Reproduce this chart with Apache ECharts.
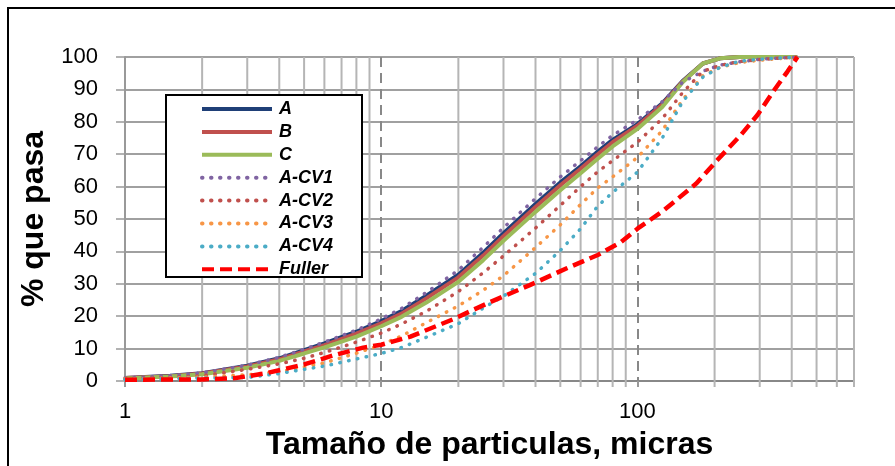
<!DOCTYPE html>
<html>
<head>
<meta charset="utf-8">
<script src="https://cdn.jsdelivr.net/npm/echarts@6/dist/echarts.min.js"></script>
<style>
html,body{margin:0;padding:0;background:#fff;}
#chart{width:895px;height:466px;}
</style>
</head>
<body>
<div id="chart"></div>
<script>
// Particle sizes (micras) shared by the measured curves
const sizes = [1, 1.5, 2, 3, 4, 5, 6, 8, 10, 12, 15, 20, 25, 30, 40, 50, 60, 70, 80, 100, 125, 150, 180, 210, 250, 300, 420];
const serieA   = [0.9,1.6,2.4,4.7,7.0,9.5,11.6,15.2,18.5,21.6,26.3,32.8,39.6,45.6,54.6,61.3,66.3,70.8,74.4,79.3,85.7,92.6,98.0,99.6,100,100,100];
const serieB   = [0.9,1.5,2.3,4.5,6.7,9.1,11.1,14.6,17.8,20.8,25.5,32.0,38.7,44.7,53.7,60.4,65.5,70.0,73.7,78.8,85.3,92.4,98.0,99.6,100,100,100];
const serieC   = [0.8,1.4,2.1,4.1,6.2,8.5,10.4,13.7,16.9,19.8,24.2,30.6,37.3,43.3,52.2,58.9,64.1,68.6,72.4,77.8,84.6,92.2,98.0,99.6,100,100,100];
const serieCV1 = [0.9,1.6,2.5,4.9,7.3,9.8,12.0,15.7,19.2,22.4,27.3,34.2,41.3,47.3,56.3,63.0,68.0,72.3,75.8,80.6,86.2,92.2,95.6,97.5,98.5,99.3,100];
const serieCV2 = [0.7,1.1,1.6,3.6,5.3,7.0,8.8,12.0,14.8,17.6,21.5,27.6,33.4,38.6,47.2,54.2,60.0,64.6,68.0,73.7,81.0,89.0,95.6,97.4,98.6,99.2,100];
const serieCV3 = [0.6,0.9,1.2,1.9,2.9,4.3,5.6,8.6,11.2,13.9,18.0,23.2,28.0,32.5,41.2,48.2,54.5,59.6,63.0,69.0,77.3,86.8,94.2,96.8,98.3,99.0,100];
const serieCV4 = [0.5,0.7,0.9,1.1,2.3,3.6,4.6,6.8,8.5,10.3,13.5,17.7,22.5,26.2,33.2,40.3,47.0,54.0,58.2,64.5,75.0,86.2,93.8,96.8,98.7,99.3,100];
// Fuller curve
const fullerSizes = [1, 2, 2.7, 3.5, 5, 6.5, 8.5, 10, 13, 19, 26, 38, 53, 70, 86, 100, 125, 170, 205, 253, 294, 342, 385, 421];
const fullerVals  = [0.4, 0.5, 0.9, 2.3, 5.1, 7.9, 10.3, 11.2, 13.7, 19.0, 24.0, 29.6, 34.8, 38.9, 42.8, 47.0, 52.3, 61.0, 68.2, 75.9, 82.1, 89.8, 95.5, 100];
// Minor log gridlines
const minorGrid = [2,3,4,5,6,7,8,9,20,30,40,50,60,70,80,90,200,300,400,500,600,700];
const majorLabels = [1, 10, 100];

const pair = (xs, ys) => xs.map((x, i) => [x, ys[i]]);

const font = 'Liberation Sans, Arial, sans-serif';
const dotted = (color) => ({ color: color, width: 3.5, type: [0.5, 8.5], cap: 'round' });

const chart = echarts.init(document.getElementById('chart'));
const option = {
  animation: false,
  backgroundColor: '#ffffff',
  grid: { left: 125, right: 41, top: 57, bottom: 85, containLabel: false, outerBoundsMode: 'none' },
  graphic: [
    { type: 'rect', z: 0, silent: true, shape: { x: 8, y: 8, width: 1000, height: 1000 },
      style: { fill: 'none', stroke: '#000', lineWidth: 2 } },
    { type: 'rect', z: 3, silent: true, shape: { x: 166, y: 95, width: 196, height: 182 },
      style: { fill: '#fff', stroke: '#000', lineWidth: 2 } }
  ],
  legend: {
    z: 10,
    left: 200, top: 100,
    orient: 'vertical',
    itemWidth: 70, itemHeight: 14, itemGap: 4.9,
    padding: 0,
    itemStyle: { opacity: 0 },
    lineStyle: { width: 4 },
    textStyle: { fontFamily: font, fontSize: 18, fontWeight: 'bold', fontStyle: 'italic', color: '#000', padding: [0, 0, 0, 2] },
    data: ['A', 'B', 'C', 'A-CV1', 'A-CV2', 'A-CV3', 'A-CV4', 'Fuller']
  },
  xAxis: {
    type: 'log', logBase: 10, min: 1, max: 700,
    name: 'Tamaño de particulas, micras',
    nameLocation: 'middle', nameGap: 48,
    nameTextStyle: { fontFamily: font, fontSize: 32, fontWeight: 'bold', color: '#000' },
    axisLine: { show: true, lineStyle: { color: '#888', width: 2 } },
    axisTick: { show: true, length: 6, lineStyle: { color: '#999', width: 2 } },
    axisLabel: {
      fontFamily: font, fontSize: 22, color: '#000', margin: 20,
      formatter: (v) => majorLabels.indexOf(Math.round(v)) >= 0 ? String(Math.round(v)) : ''
    },
    splitLine: { show: true, lineStyle: { color: '#888', width: 2, type: [10, 6] } },
    minorTick: { show: false }
  },
  yAxis: {
    type: 'value', min: 0, max: 100, interval: 10,
    name: '% que pasa',
    nameLocation: 'middle', nameGap: 64, nameRotate: 90,
    nameTextStyle: { fontFamily: font, fontSize: 32, fontWeight: 'bold', color: '#000' },
    axisLine: { show: true, lineStyle: { color: '#999', width: 2 } },
    axisTick: { show: true, length: 9, lineStyle: { color: '#999', width: 1.5 } },
    axisLabel: { fontFamily: font, fontSize: 22, color: '#000', margin: 27 },
    splitLine: { show: true, lineStyle: { color: '#a0a0a0', width: 2 } }
  },
  series: [
    {
      type: 'custom', name: 'grid', silent: true, z: 1, clip: false,
      data: minorGrid.map(v => [v, 0]),
      encode: { x: 0, y: 1 },
      renderItem: (params, api) => {
        const x = api.value(0);
        const t = api.coord([x, 100]);
        const b = api.coord([x, 0]);
        return { type: 'line', shape: { x1: t[0], y1: t[1], x2: b[0], y2: b[1] + 6 },
                 style: { stroke: '#b5b5b5', lineWidth: 2 } };
      }
    },
    { name: 'A', type: 'line', symbol: 'none', z: 3, data: pair(sizes, serieA),
      lineStyle: { color: '#1F3F77', width: 4 }, itemStyle: { color: '#1F3F77' } },
    { name: 'B', type: 'line', symbol: 'none', z: 3, data: pair(sizes, serieB),
      lineStyle: { color: '#C0504D', width: 4 }, itemStyle: { color: '#C0504D' } },
    { name: 'C', type: 'line', symbol: 'none', z: 3, data: pair(sizes, serieC),
      lineStyle: { color: '#9BBB59', width: 4 }, itemStyle: { color: '#9BBB59' } },
    { name: 'A-CV1', type: 'line', symbol: 'none', z: 4, data: pair(sizes, serieCV1),
      lineStyle: dotted('#8064A2'), itemStyle: { color: '#8064A2' } },
    { name: 'A-CV2', type: 'line', symbol: 'none', z: 4, data: pair(sizes, serieCV2),
      lineStyle: dotted('#C0504D'), itemStyle: { color: '#C0504D' } },
    { name: 'A-CV3', type: 'line', symbol: 'none', z: 4, data: pair(sizes, serieCV3),
      lineStyle: dotted('#F79646'), itemStyle: { color: '#F79646' } },
    { name: 'A-CV4', type: 'line', symbol: 'none', z: 4, data: pair(sizes, serieCV4),
      lineStyle: dotted('#4BACC6'), itemStyle: { color: '#4BACC6' } },
    { name: 'Fuller', type: 'line', symbol: 'none', z: 5, data: pair(fullerSizes, fullerVals),
      lineStyle: { color: '#FF0000', width: 4.5, type: [12, 6] }, itemStyle: { color: '#FF0000' } }
  ]
};
chart.setOption(option);
</script>
</body>
</html>
